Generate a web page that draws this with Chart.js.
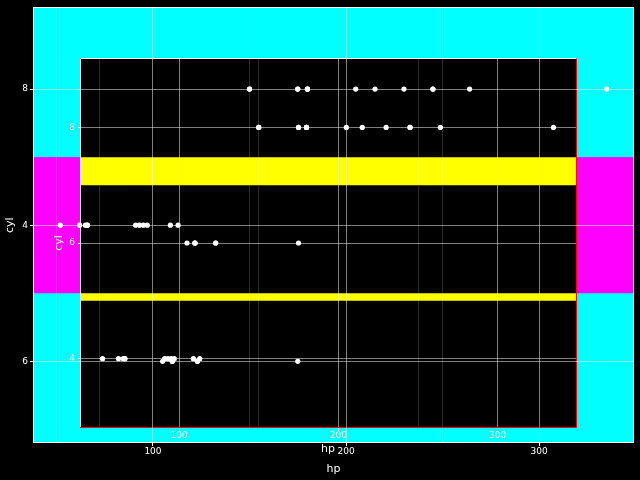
<!DOCTYPE html>
<html><head><meta charset="utf-8">
<script src="https://cdn.jsdelivr.net/npm/chart.js@4/dist/chart.umd.min.js"></script>
<style>
html,body{margin:0;padding:0;background:#000;}
#outer{display:block;}
#hid{position:absolute;left:-3000px;top:0;width:640px;height:480px;}
</style></head><body>
<canvas id="outer" width="640" height="480"></canvas>
<div id="hid"><canvas id="inner" width="640" height="480"></canvas></div>
<script>
// mtcars: horsepower and cylinders
const hp  = [110,110,93,110,175,105,245,62,95,123,123,180,180,180,205,215,230,66,52,65,97,150,150,245,175,66,91,113,264,175,335,109];
const cyl = [6,6,4,6,8,6,8,4,4,6,6,8,8,8,8,8,8,4,4,4,4,8,8,8,8,4,4,4,8,6,8,4];
const outerCylOrder = ['6','4','8'];   // bottom to top
const innerCylOrder = ['4','6','8'];   // bottom to top
const outerBandCyl = '4';
const innerBandCyl = '6';
const xMajorTicks = [100,200,300];
const xMinorTicks = [50,150,250];
const xRange = [37.85, 349.15];
const yRange = [0.4, 3.6];

Chart.defaults.font.family = 'DejaVu Sans';
const WHITE = '#ffffff';
const MAJOR = 'rgba(255,255,255,0.5)';
const MINOR = 'rgba(255,255,255,0.16)';
const isMinor = c => c.tick && xMinorTicks.includes(c.tick.value);

function setXTicks(s){
  s.ticks = xMajorTicks.concat(xMinorTicks).filter(v => v >= s.min && v <= s.max)
    .sort((a,b)=>a-b).map(v => ({value:v}));
}
function setYTicks(s){ s.ticks = [1,2,3].map(v => ({value:v})); }

function points(order){
  return hp.map((h,i) => ({x:h, y: order.indexOf(String(cyl[i])) + 1}));
}

function xScale(h, tl, pad, titlePad){
  return {
    type:'linear', min:xRange[0], max:xRange[1],
    afterBuildTicks:setXTicks,
    afterFit:s => { s.height = h; },
    grid:{color:c => isMinor(c) ? MINOR : MAJOR, tickColor:c => isMinor(c) ? 'rgba(0,0,0,0)' : WHITE, tickLength:tl, lineWidth:1},
    border:{display:false},
    ticks:{color:WHITE, font:{size:9}, padding:pad, maxRotation:0, autoSkip:false,
      callback:v => xMajorTicks.includes(v) ? String(v) : ''},
    title:{display:true, text:'hp', color:WHITE, font:{size:11}, padding:titlePad}
  };
}
function yScale(w, order, tl, pad, titlePad){
  return {
    type:'linear', min:yRange[0], max:yRange[1],
    afterBuildTicks:setYTicks,
    afterFit:s => { s.width = w; },
    grid:{color:MAJOR, tickColor:WHITE, tickLength:tl, lineWidth:1},
    border:{display:false},
    ticks:{color:WHITE, font:{size:9}, padding:pad, autoSkip:false,
      callback:v => order[v-1] || ''},
    title:{display:true, text:'cyl', color:WHITE, font:{size:11}, padding:titlePad}
  };
}

let innerChart = null;

const outerPlugin = {
  id:'outerBg',
  beforeDraw(chart){
    const {ctx, chartArea:a, scales:{y}} = chart;
    ctx.save();
    ctx.fillStyle = '#000'; ctx.fillRect(0,0,chart.width,chart.height);
    ctx.fillStyle = '#00ffff'; ctx.fillRect(a.left, a.top, a.right-a.left, a.bottom-a.top);
    const bi = outerCylOrder.indexOf(outerBandCyl) + 1;
    const t = y.getPixelForValue(bi + 0.5), b = y.getPixelForValue(bi - 0.5);
    ctx.fillStyle = '#ff00ff'; ctx.fillRect(a.left, t, a.right-a.left, b-t);
    if (innerChart) ctx.drawImage(innerChart.canvas, 0, 0);
    ctx.restore();
  },
  afterDraw(chart){
    const {ctx, chartArea:a} = chart;
    ctx.save();
    ctx.strokeStyle = WHITE; ctx.lineWidth = 1;
    ctx.strokeRect(Math.round(a.left)+0.5, Math.round(a.top)+0.5, Math.round(a.right-a.left)-1, Math.round(a.bottom-a.top)-1);
    ctx.restore();
  }
};

const outerChart = new Chart(document.getElementById('outer'), {
  type:'scatter',
  data:{datasets:[{data:points(outerCylOrder), backgroundColor:WHITE, borderWidth:0, pointRadius:2.6}]},
  options:{
    responsive:false, animation:false, devicePixelRatio:1, events:[],
    layout:{padding:{left:0, top:6, right:6, bottom:0}},
    plugins:{legend:{display:false}, tooltip:{enabled:false}},
    scales:{
      x:xScale(37, 3, 0, {top:0, bottom:4}),
      y:yScale(33, outerCylOrder, 3, 2, {top:4, bottom:0})
    }
  },
  plugins:[outerPlugin]
});

const innerPlugin = {
  id:'innerBg',
  beforeDraw(chart){
    const {ctx, chartArea:a, scales:{y}} = chart;
    ctx.save();
    ctx.clearRect(0,0,chart.width,chart.height);
    ctx.fillStyle = '#000'; ctx.fillRect(a.left, a.top, a.right-a.left, a.bottom-a.top);
    const oy = outerChart.scales.y;
    const ob = outerCylOrder.indexOf(outerBandCyl) + 1;
    const ib = innerCylOrder.indexOf(innerBandCyl) + 1;
    const o1 = oy.getPixelForValue(ob + 0.5), o2 = oy.getPixelForValue(ob - 0.5);
    const i1 = y.getPixelForValue(ib + 0.5), i2 = y.getPixelForValue(ib - 0.5);
    ctx.beginPath();
    ctx.rect(a.left, o1, a.right-a.left, o2-o1);
    ctx.rect(a.left, i1, a.right-a.left, i2-i1);
    ctx.fillStyle = '#ffff00';
    ctx.fill('evenodd');
    ctx.restore();
  },
  afterDraw(chart){
    const {ctx, chartArea:a} = chart;
    const L = Math.round(a.left)+0.5, T = Math.round(a.top)+0.5, R = Math.round(a.right)+0.5, B = Math.round(a.bottom)-0.5;
    ctx.save(); ctx.lineWidth = 1;
    ctx.strokeStyle = WHITE;
    ctx.beginPath(); ctx.moveTo(L,B); ctx.lineTo(L,T); ctx.lineTo(R,T); ctx.stroke();
    ctx.strokeStyle = '#ff0000';
    ctx.beginPath(); ctx.moveTo(R,T); ctx.lineTo(R,B); ctx.lineTo(L,B); ctx.stroke();
    ctx.restore();
  }
};

innerChart = new Chart(document.getElementById('inner'), {
  type:'scatter',
  data:{datasets:[{data:points(innerCylOrder), backgroundColor:WHITE, borderWidth:0, pointRadius:2.6}]},
  options:{
    responsive:false, animation:false, devicePixelRatio:1, events:[],
    layout:{padding:{left:0, top:58, right:64, bottom:0}},
    plugins:{legend:{display:false}, tooltip:{enabled:false}},
    scales:{
      x:xScale(52, 3, -1, {top:0, bottom:24}),
      y:yScale(80, innerCylOrder, 2, 3, {top:53, bottom:0})
    }
  },
  plugins:[innerPlugin]
});

outerChart.draw();
</script>
</body></html>
